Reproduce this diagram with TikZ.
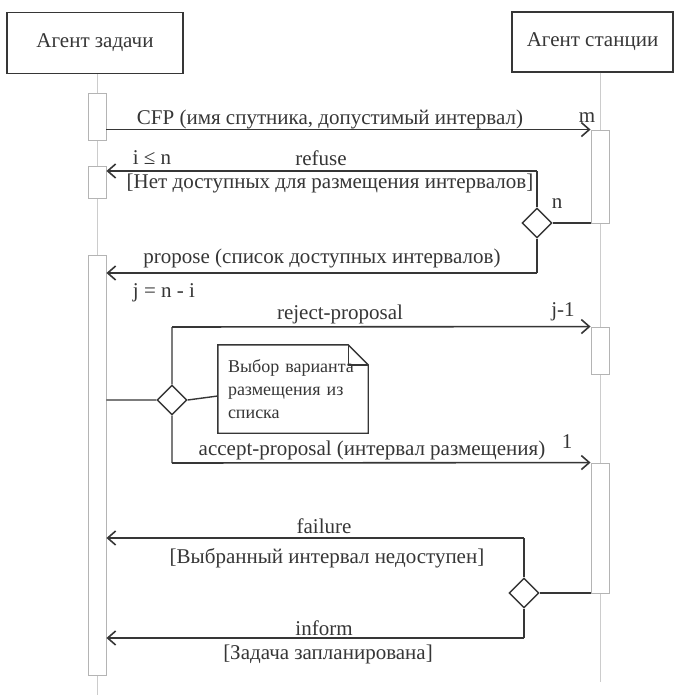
\documentclass[tikz,border=0pt]{standalone}
\usepackage{fontspec}
\setmainfont{Liberation Serif}
\usetikzlibrary{arrows.meta,shapes.geometric}
\definecolor{ink}{HTML}{363636}
\definecolor{lifegray}{HTML}{CCCCCC}
\definecolor{actgray}{HTML}{B4B4B4}
\tikzstyle{agent} = [rectangle, draw=ink, line width=1.4pt, text=ink,
    minimum height=61pt, font=\fontsize{21}{24}\selectfont]
\tikzstyle{act} = [rectangle, draw=actgray, fill=white, line width=0.9pt,
    minimum width=18pt, inner sep=0pt]
\tikzstyle{life} = [draw=lifegray, line width=0.9pt]
\tikzstyle{msg} = [draw=ink, line width=1.6pt, -{Straight Barb[length=8pt,width=14pt]}]
\tikzstyle{wire} = [draw=ink, line width=1.4pt]
\tikzstyle{choice} = [diamond, draw=ink, line width=1.4pt, fill=white,
    minimum width=30pt, minimum height=30pt, inner sep=0pt]
\tikzstyle{lbl} = [inner sep=0pt, text=ink, font=\fontsize{21}{24}\selectfont]
\tikzstyle{notebox} = [inner xsep=10pt, inner ysep=0pt, text=ink, align=left,
    text width=130pt, minimum height=88pt, font=\fontsize{18}{23}\selectfont]

\begin{document}
\begin{tikzpicture}[x=1pt,y=-1pt]
  \useasboundingbox[fill=white] (0,0) rectangle (681,695);

  \node[agent,minimum width=176pt] (ta) at (95,43) {Агент задачи};
  \node[agent,minimum width=161pt,minimum height=60pt] (sa) at (592.5,42) {Агент станции};

  \coordinate (tl) at (97,695);
  \coordinate (sl) at (600,682);
  \draw[life] (ta.south -| tl) -- (tl);
  \draw[life] (sa.south -| sl) -- (sl);

  \node[act,minimum height=47pt] (a1) at (97,116.5) {};
  \node[act,minimum height=32pt] (a2) at (97,182) {};
  \node[act,minimum height=420pt] (a3) at (97,465) {};
  \node[act,minimum height=93pt] (b1) at (600,176.5) {};
  \node[act,minimum height=47pt] (b2) at (600,350.5) {};
  \node[act,minimum height=130pt] (b3) at (600,528) {};

  \node[choice] (d1) at (537,223) {};
  \node[choice] (d2) at (172,400) {};
  \node[choice] (d3) at (524,593) {};
  \node[notebox] (note) at (293,389) {Выбор варианта\\размещения из\\списка};
  \draw[wire] (note.south west) -- (note.north west) -- ([xshift=-20pt]note.north east)
    -- ([yshift=-20pt]note.north east) -- (note.south east) -- cycle;
  \draw[wire] ([xshift=-20pt]note.north east) |- ([yshift=-20pt]note.north east);

  \coordinate (r1) at (537,171);
  \coordinate (p1) at (537,273);
  \coordinate (j1) at (172,327);
  \coordinate (k1) at (172,463);
  \coordinate (f1) at (524,538);
  \coordinate (i1) at (524,638);

  \draw[msg] (a1.east |- b1.north) -- (b1.north west);
  \draw[msg] (r1) -- (r1 -| a2.east);
  \draw[msg] (p1) -- (p1 -| a3.east);
  \draw[msg] (j1) -- (b2.north west);
  \draw[msg] (k1) -- (b3.north west);
  \draw[msg] (f1) -- (f1 -| a3.east);
  \draw[msg] (i1) -- (i1 -| a3.east);

  \draw[wire] (r1) -- (d1.north) (d1.south) -- (p1) (d1.east) -- (d1.east -| b1.west);
  \draw[wire] (j1) -- (d2.north) (d2.south) -- (k1) (d2.west) -- (d2.west -| a3.east)
    (d2.east) -- ([yshift=-7pt]note.west);
  \draw[wire] (f1) -- (d3.north) (d3.south) -- (i1) (d3.east) -- (d3.east -| b3.west);

  \node[lbl] (cfp) at (330,119) {CFP (имя спутника, допустимый интервал)};
  \node[lbl] (m) at (587,118) {m};
  \node[lbl] (iln) at (152,158) {i ≤ n};
  \node[lbl] (ref) at (321,158) {refuse};
  \node[lbl] (g1) at (330,183) {[Нет доступных для размещения интервалов]};
  \node[lbl] (n) at (557,204) {n};
  \node[lbl] (prp) at (322,258) {propose (список доступных интервалов)};
  \node[lbl] (jni) at (164,293) {j = n - i};
  \node[lbl] (rej) at (340,314) {reject-proposal};
  \node[lbl] (jm) at (563,312) {j-1};
  \node[lbl] (acc) at (372,450) {accept-proposal (интервал размещения)};
  \node[lbl] (one) at (567,442) {1};
  \node[lbl] (fail) at (324,526) {failure};
  \node[lbl] (g2) at (327,558) {[Выбранный интервал недоступен]};
  \node[lbl] (inf) at (324,628) {inform};
  \node[lbl] (g3) at (328,654) {[Задача запланирована]};
\end{tikzpicture}
\end{document}
